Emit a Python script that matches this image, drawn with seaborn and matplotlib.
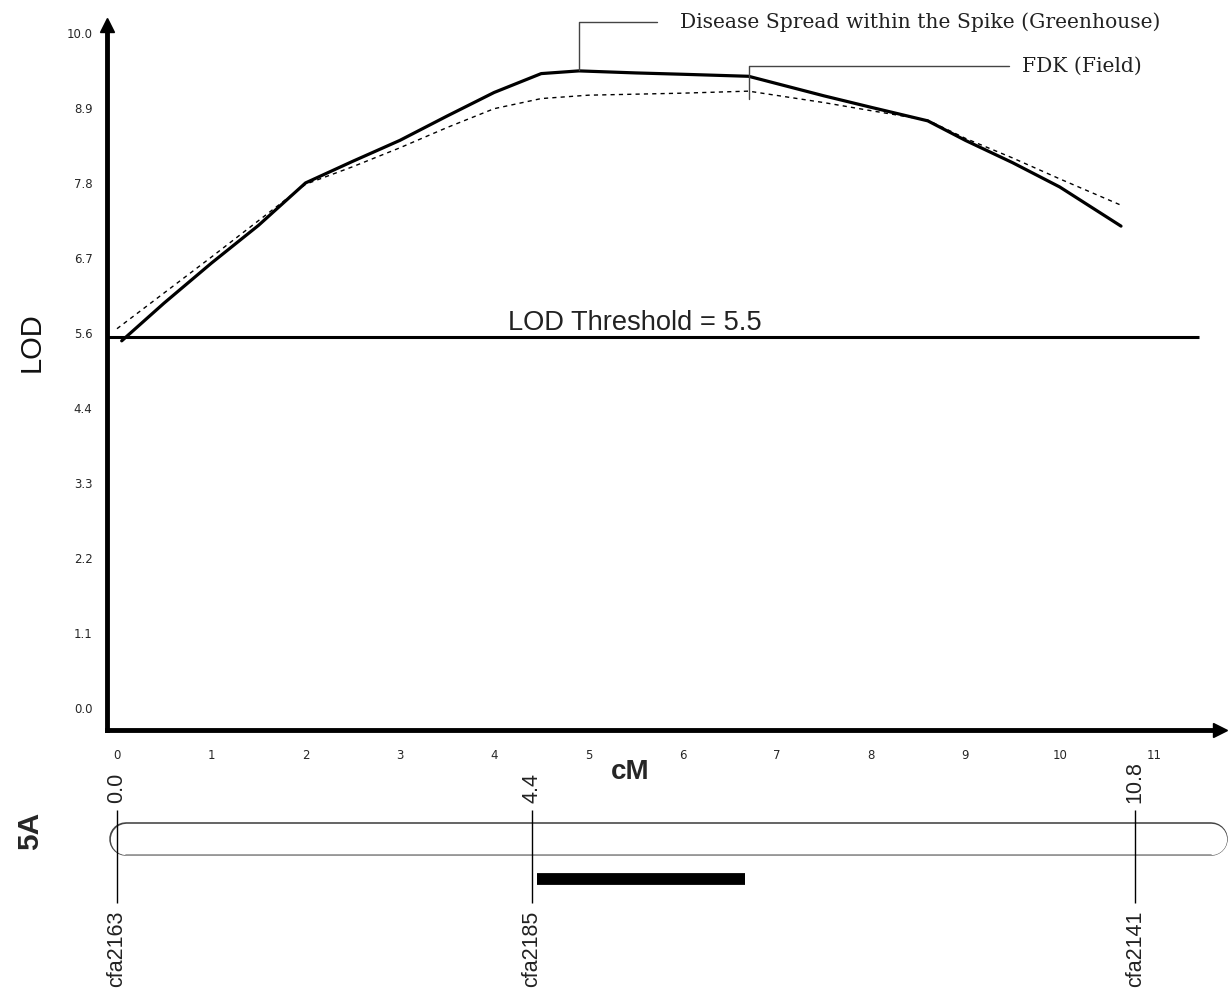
import numpy as np
import pandas as pd
import matplotlib
matplotlib.use("Agg")
import matplotlib.pyplot as plt
import seaborn as sns

# LOD profiles along chromosome 5A
cm_spread = [0.05, 0.5, 1.0, 1.5, 2.0, 2.5, 3.0, 3.5, 4.0, 4.5, 4.9, 5.5, 6.0, 6.7,
             7.5, 8.0, 8.6, 9.0, 9.5, 10.0, 10.65]
lod_spread = [5.44, 6.0, 6.59, 7.15, 7.78, 8.1, 8.41, 8.77, 9.12, 9.4, 9.44, 9.41, 9.39, 9.36,
              9.07, 8.9, 8.7, 8.41, 8.08, 7.72, 7.14]
cm_fdk = [0.0, 0.5, 1.0, 1.5, 2.0, 2.5, 3.0, 3.5, 4.0, 4.5, 5.0, 6.0, 6.7,
          7.5, 8.0, 8.6, 9.0, 9.5, 10.0, 10.65]
lod_fdk = [5.62, 6.15, 6.68, 7.22, 7.76, 8.02, 8.3, 8.6, 8.88, 9.03, 9.08, 9.11, 9.14,
           8.97, 8.85, 8.71, 8.44, 8.15, 7.84, 7.45]
lod_threshold = 5.5

# markers on the linkage map
marker_names = ["cfa2163", "cfa2185", "cfa2141"]
marker_pos = [0.0, 4.4, 10.8]
qtl_start, qtl_end = 4.46, 6.66

xtick_vals = list(range(12))
ytick_vals = np.linspace(0, 10, 10)
ytick_labels = ["%.1f" % v for v in ytick_vals]

df = pd.concat([
    pd.DataFrame({"cM": cm_spread, "LOD": lod_spread, "trait": "spread"}),
    pd.DataFrame({"cM": cm_fdk, "LOD": lod_fdk, "trait": "fdk"}),
])

sns.set_style("white")
plt.rcParams["font.family"] = ["Liberation Sans", "DejaVu Sans"]

W, H = 1228, 991
fig = plt.figure(figsize=(W / 100, H / 100), dpi=100)
xlim = (-0.106, 11.7)
ax = fig.add_axes([107 / W, 1 - 730 / H, (1220 - 107) / W, (730 - 25) / H])
ax.set_xlim(*xlim)
ax.set_ylim(-0.326, 10.12)

sns.lineplot(data=df[df.trait == "spread"], x="cM", y="LOD", ax=ax, color="black",
             lw=2.3, sort=False)
sns.lineplot(data=df[df.trait == "fdk"], x="cM", y="LOD", ax=ax, color="black",
             lw=1.0, sort=False, linestyle=(0, (3, 3)))
ax.hlines(lod_threshold, xlim[0], 11.48, color="black", lw=2.2)
ax.text(5.49, 5.6, "LOD Threshold = %.1f" % lod_threshold, ha="center", va="baseline",
        fontsize=19.6, color="#222222")

# spines as arrows
for s in ["top", "right"]:
    ax.spines[s].set_visible(False)
for s in ["left", "bottom"]:
    ax.spines[s].set_linewidth(3.5)
    ax.spines[s].set_color("black")
ax.plot(1, 0, ">k", ms=10, transform=ax.transAxes, clip_on=False)
ax.plot(0, 1, "^k", ms=10, transform=ax.transAxes, clip_on=False)

ax.set_xticks(xtick_vals)
ax.set_xticklabels([str(v) for v in xtick_vals], family="DejaVu Sans", fontsize=8.5)
ax.set_yticks(ytick_vals)
ax.set_yticklabels(ytick_labels, family="DejaVu Sans", fontsize=8.5)
ax.tick_params(direction="inout", length=9, width=2.5, color="black", pad=6)
ax.tick_params(axis="x", pad=9)
ax.set_xlabel("")
ax.set_ylabel("")

# leader annotations
serif = dict(family="DejaVu Serif", fontsize=14.6, color="#222222")
ax.annotate("Disease Spread within the Spike (Greenhouse)", xy=(4.9, 9.45), xytext=(5.97, 10.16),
            va="center", ha="left", annotation_clip=False, **serif,
            arrowprops=dict(arrowstyle="-", color="#444444", lw=1, shrinkA=14, shrinkB=0,
                            connectionstyle="angle,angleA=0,angleB=90,rad=0",
                            relpos=(0, 0.5)))
ax.annotate("FDK (Field)", xy=(6.7, 9.02), xytext=(9.6, 9.51),
            va="center", ha="left", annotation_clip=False, **serif,
            arrowprops=dict(arrowstyle="-", color="#444444", lw=1, shrinkA=7, shrinkB=0,
                            connectionstyle="angle,angleA=0,angleB=90,rad=0",
                            relpos=(0, 0.5)))

fig.text(32 / W, 1 - 342 / H, "LOD", rotation=90, ha="center", va="center",
         fontsize=21, color="#111111")
fig.text(630 / W, 1 - 772 / H, "cM", ha="center", va="center", fontsize=20, fontweight="bold")
fig.text(30 / W, 1 - 831 / H, "5A", rotation=90, ha="center", va="center",
         fontsize=21.5, fontweight="bold")

# linkage map below, y in pixel rows
ax2 = fig.add_axes([107 / W, 0, (1220 - 107) / W, (H - 750) / H])
ax2.set_xlim(*xlim)
ax2.set_ylim(H, 750)
ax2.axis("off")
# chromosome drawn as a capsule: round-capped outline line with a white core
chrom_x = [0.096, 11.6]
ax2.plot(chrom_x, [839, 839], color="#444444", lw=24.2, solid_capstyle="round",
         zorder=1, clip_on=False)
ax2.plot(chrom_x, [839, 839], color="white", lw=22.6, solid_capstyle="round",
         zorder=1.1, clip_on=False)
ax2.plot(chrom_x, [854.5, 854.5], color="#999999", lw=1.3, zorder=1.2, clip_on=False)
ax2.vlines(marker_pos, 810, 903, color="black", lw=1, zorder=3)
for name, pos in zip(marker_names, marker_pos):
    ax2.text(pos, 803, "%.1f" % pos, rotation=90, ha="center", va="bottom",
             fontsize=15.5, color="#222222")
    ax2.text(pos, 911, name, rotation=90, ha="center", va="top",
             fontsize=15.5, color="#222222")
ax2.plot([qtl_start, qtl_end], [879, 879], color="black", lw=8.5, solid_capstyle="butt")

fig.savefig("out.png", dpi=100)
